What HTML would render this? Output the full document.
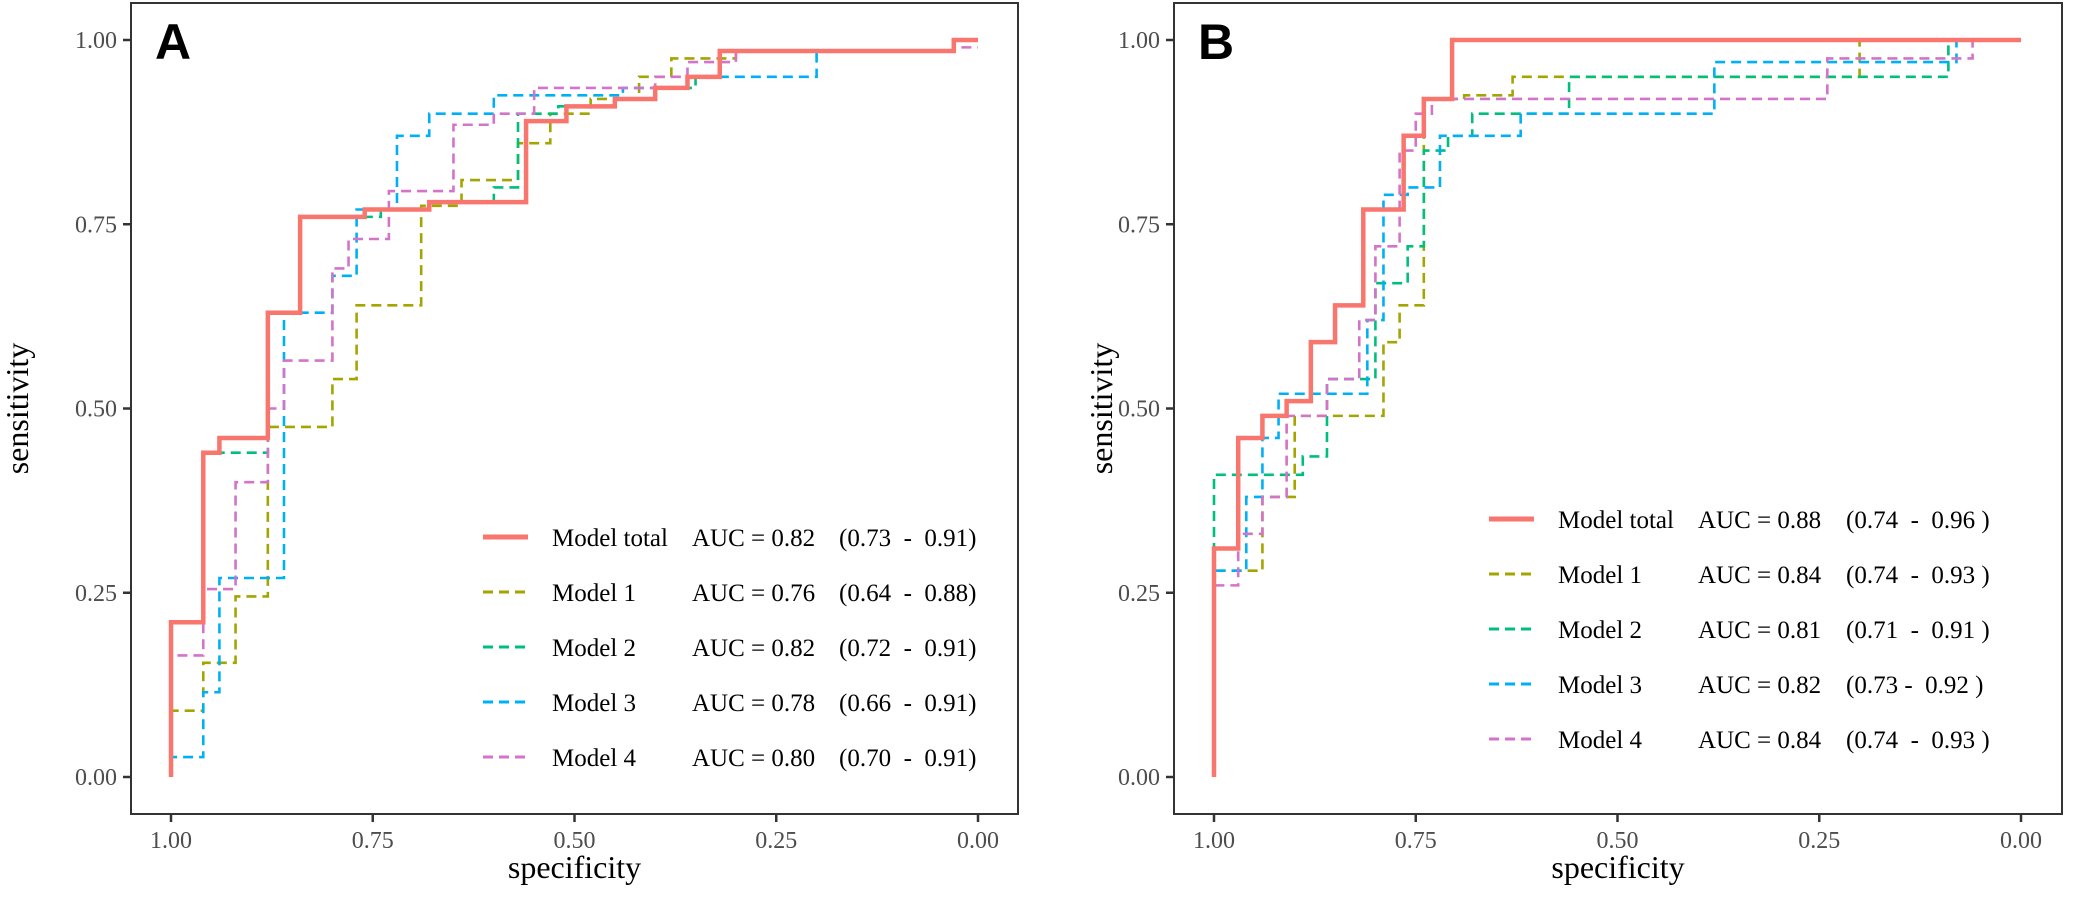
<!DOCTYPE html>
<html><head><meta charset="utf-8">
<style>
html,body{margin:0;padding:0;background:#fff;}
svg{display:block;font-family:"Liberation Serif",serif;}
</style></head>
<body>
<svg id="chart" width="2075" height="907" viewBox="0 0 2075 907" xmlns="http://www.w3.org/2000/svg"></svg>
<script>
// ---- Data ----
const seriesNames = ["Model total","Model 1","Model 2","Model 3","Model 4"];
const xTicks = [1.00,0.75,0.50,0.25,0.00];
const yTicks = [0.00,0.25,0.50,0.75,1.00];
const tickLabels = ["0.00","0.25","0.50","0.75","1.00"];
const xTickLabels = ["1.00","0.75","0.50","0.25","0.00"];

// Panel A: step corners (specificity, sensitivity)
const aTotalSpec = [1.00,0.96,0.94,0.88,0.84,0.76,0.68,0.56,0.56,0.51,0.45,0.40,0.36,0.32,0.03];
const aTotalSens = [0.21,0.44,0.46,0.63,0.76,0.77,0.78,0.81,0.89,0.91,0.92,0.935,0.95,0.985,1.00];
const aM1Spec = [1.00,0.96,0.92,0.88,0.80,0.77,0.69,0.64,0.57,0.53,0.48,0.42,0.38,0.30,0.03];
const aM1Sens = [0.09,0.155,0.245,0.475,0.54,0.64,0.775,0.81,0.86,0.90,0.92,0.95,0.975,0.985,1.00];
const aM2Spec = [1.00,0.96,0.88,0.84,0.74,0.68,0.60,0.57,0.52,0.45,0.40,0.35,0.32,0.03];
const aM2Sens = [0.21,0.44,0.63,0.76,0.77,0.78,0.80,0.90,0.91,0.92,0.935,0.95,0.985,1.00];
const aM3Spec = [1.00,0.96,0.94,0.86,0.80,0.77,0.72,0.68,0.60,0.44,0.36,0.20,0.03];
const aM3Sens = [0.027,0.115,0.27,0.63,0.68,0.77,0.87,0.90,0.925,0.935,0.95,0.985,1.00];
const aM4Spec = [1.00,0.96,0.92,0.88,0.86,0.80,0.78,0.73,0.65,0.60,0.55,0.40,0.36,0.30,0.03];
const aM4Sens = [0.165,0.255,0.40,0.50,0.565,0.69,0.73,0.795,0.885,0.90,0.935,0.95,0.97,0.985,0.99];

// Panel B
const bTotalSpec = [1.00,0.97,0.94,0.91,0.88,0.85,0.815,0.765,0.74,0.705];
const bTotalSens = [0.31,0.46,0.49,0.51,0.59,0.64,0.77,0.87,0.92,1.00];
const bM1Spec = [1.00,0.94,0.90,0.79,0.77,0.74,0.74,0.69,0.63,0.20];
const bM1Sens = [0.28,0.38,0.49,0.59,0.64,0.77,0.92,0.925,0.95,1.00];
const bM2Spec = [1.00,0.89,0.86,0.80,0.76,0.74,0.71,0.68,0.62,0.56,0.09];
const bM2Sens = [0.41,0.435,0.54,0.67,0.72,0.85,0.87,0.90,0.90,0.95,1.00];
const bM3Spec = [1.00,0.96,0.94,0.92,0.81,0.79,0.76,0.72,0.62,0.38,0.08];
const bM3Sens = [0.28,0.38,0.46,0.52,0.62,0.79,0.80,0.87,0.90,0.97,1.00];
const bM4Spec = [1.00,0.97,0.94,0.91,0.86,0.82,0.80,0.77,0.75,0.73,0.24,0.06];
const bM4Sens = [0.26,0.33,0.38,0.49,0.54,0.62,0.72,0.85,0.90,0.92,0.975,1.00];

const aucA = ["AUC = 0.82","AUC = 0.76","AUC = 0.82","AUC = 0.78","AUC = 0.80"];
const ciA = ["(0.73  -  0.91)","(0.64  -  0.88)","(0.72  -  0.91)","(0.66  -  0.91)","(0.70  -  0.91)"];
const aucB = ["AUC = 0.88","AUC = 0.84","AUC = 0.81","AUC = 0.82","AUC = 0.84"];
const ciB = ["(0.74  -  0.96 )","(0.74  -  0.93 )","(0.71  -  0.91 )","(0.73 -  0.92 )","(0.74  -  0.93 )"];

const colors = ["#F8766D","#A3A500","#00BF7D","#00B0F6","#D373C9"];
const NS = "http://www.w3.org/2000/svg";
const svg = document.getElementById("chart");

function mk(tag, attrs, parent, text){
  const e = document.createElementNS(NS, tag);
  for (const k in attrs) e.setAttribute(k, attrs[k]);
  if (text !== undefined) e.textContent = text;
  (parent || svg).appendChild(e);
  return e;
}

function panel(cfg){
  const g = mk("g", {});
  
  
  const xs = v => cfg.x0 + (1 - v) * (cfg.x1 - cfg.x0);
  const ys = v => cfg.y0 - v * (cfg.y0 - cfg.y1);
  const fr = mk("rect", {x:cfg.fl, y:cfg.ft, width:cfg.fr-cfg.fl, height:cfg.fb-cfg.ft, fill:"none", stroke:"#333", "stroke-width":2}, g);
  
  
  yTicks.forEach((t,i)=>{
    const y = ys(t);
    const tk = mk("line", {x1:cfg.fl-8, x2:cfg.fl, y1:y, y2:y, stroke:"#333", "stroke-width":2.5}, g);
    
    
    const lb = mk("text", {x:cfg.fl-14, y:y+8, "text-anchor":"end", "font-size":24, fill:"#4d4d4d"}, g, tickLabels[i]);
    
    
  });
  xTicks.forEach((t,i)=>{
    const x = xs(t);
    const tk = mk("line", {x1:x, x2:x, y1:cfg.fb, y2:cfg.fb+8, stroke:"#333", "stroke-width":2.5}, g);
    
    
    const lb = mk("text", {x:x, y:cfg.fb+34, "text-anchor":"middle", "font-size":24, fill:"#4d4d4d"}, g, xTickLabels[i]);
    
    
  });
  const xt = mk("text", {x:(cfg.fl+cfg.fr)/2, y:cfg.fb+64, "text-anchor":"middle", "font-size":32, fill:"#000"}, g, "specificity");
  
  
  const yt = mk("text", {x:0, y:0, "text-anchor":"middle", "font-size":32, fill:"#000", transform:`translate(${cfg.ylx},${(cfg.ft+cfg.fb)/2}) rotate(-90)`}, g, "sensitivity");
  
  
  const pl = mk("text", {x:cfg.fl+24, y:59, "font-size":50, "font-weight":"bold", "font-family":"Liberation Sans, sans-serif", fill:"#000"}, g, cfg.letter);
  
  
  const order = [1,2,3,4,0];
  order.forEach(si=>{
    const sp = cfg.spec[si], se = cfg.sens[si];
    let d = `M${xs(1)},${ys(0)}`;
    let cy = 0;
    for (let i=0;i<sp.length;i++){
      d += ` L${xs(sp[i])},${ys(cy)} L${xs(sp[i])},${ys(se[i])}`;
      cy = se[i];
    }
    d += ` L${xs(0)},${ys(cy)}`;
    const attrs = {d:d, fill:"none", stroke:colors[si]};
    if (si===0){ attrs["stroke-width"]=4.5; }
    else { attrs["stroke-width"]=2.6; attrs["stroke-dasharray"]="10,6"; }
    const p = mk("path", attrs, g);
    
    
  });
  const lg = mk("g", {}, g);
  
  
  seriesNames.forEach((n,i)=>{
    const y = cfg.legY[i];
    const la = {x1:cfg.legX, x2:cfg.legX+45, y1:y, y2:y, stroke:colors[i]};
    if (i===0) la["stroke-width"]=5; else { la["stroke-width"]=3; la["stroke-dasharray"]="10,6"; }
    const ln = mk("line", la, lg);
    
    
    const t1 = mk("text", {x:cfg.legX+69, y:y+9, "font-size":25}, lg, n);
    
    
    const t2 = mk("text", {x:cfg.aucX, y:y+9, "font-size":25}, lg, cfg.auc[i]);
    
    
    const t3 = mk("text", {x:cfg.ciX, y:y+9, "font-size":25, style:"white-space:pre"}, lg, cfg.ci[i]);
    
    
  });
}

panel({name:"panel-a", letter:"A", fl:131, fr:1018, ft:3, fb:814, x0:171, x1:978, y0:777, y1:40, ylx:28,
  spec:[aTotalSpec,aM1Spec,aM2Spec,aM3Spec,aM4Spec], sens:[aTotalSens,aM1Sens,aM2Sens,aM3Sens,aM4Sens],
  legX:483, aucX:692, ciX:839, legY:[537,592,647,702,757], auc:aucA, ci:ciA});
panel({name:"panel-b", letter:"B", fl:1174, fr:2062, ft:3, fb:814, x0:1214, x1:2021, y0:777, y1:40, ylx:1112,
  spec:[bTotalSpec,bM1Spec,bM2Spec,bM3Spec,bM4Spec], sens:[bTotalSens,bM1Sens,bM2Sens,bM3Sens,bM4Sens],
  legX:1489, aucX:1698, ciX:1846, legY:[519,574,629,684,739], auc:aucB, ci:ciB});
</script>
</body></html>
